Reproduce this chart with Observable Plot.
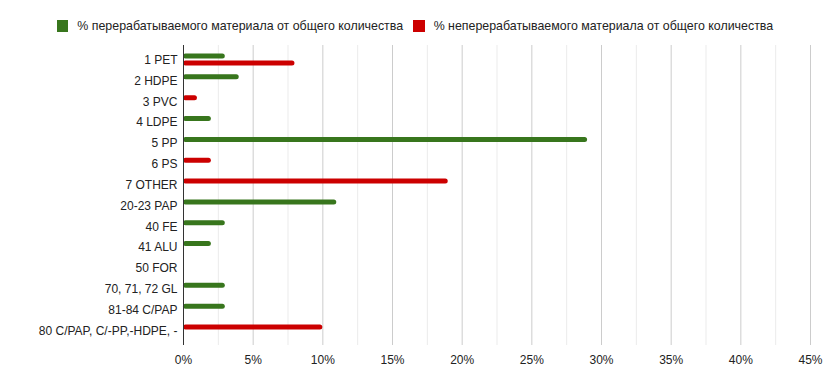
<!DOCTYPE html>
<html>
<head>
<meta charset="utf-8">
<script src="https://cdn.jsdelivr.net/npm/d3@7"></script>
<script src="https://cdn.jsdelivr.net/npm/@observablehq/plot@0.6"></script>
<style>
  html, body { margin: 0; padding: 0; background: #fff; }
  body { width: 830px; height: 385px; overflow: hidden; font-family: "Liberation Sans", Arial, sans-serif; }
  #legend { height: 38px; display: flex; justify-content: center; align-items: flex-start; font-size: 12.4px; color: #222; }
  .item { display: flex; align-items: center; margin: 0 5px; padding-top: 19px; }
  .sw { width: 11.5px; height: 11.5px; margin-right: 9px; }
  svg { display: block; }
</style>
</head>
<body>
<div id="legend"></div>
<div id="chart"></div>
<script>
const categories = ["1 PET", "2 HDPE", "3 PVC", "4 LDPE", "5 PP", "6 PS", "7 OTHER", "20-23 PAP", "40 FE", "41 ALU", "50 FOR", "70, 71, 72 GL", "81-84 C/PAP", "80 C/PAP, C/-PP,-HDPE, -"];
const seriesNames = ["% перерабатываемого материала от общего количества", "% неперерабатываемого материала от общего количества"];
const recycled =    [3, 4, null, 2, 29, null, null, 11, 3, 2, null, 3, 3, null];
const nonRecycled = [8, null, 1, null, null, 2, 19, null, null, null, null, null, null, 10];
const seriesColors = ["#38761d", "#cc0000"];
const xTicks = [0, 5, 10, 15, 20, 25, 30, 35, 40, 45];

// legend
const legend = document.getElementById("legend");
seriesNames.forEach((name, i) => {
  const it = document.createElement("div");
  it.className = "item";
  it.innerHTML = `<div class="sw" style="background:${seriesColors[i]}"></div><span>${name}</span>`;
  legend.appendChild(it);
});

// rows: bars within a category take consecutive slots
const rows = [];
categories.forEach((c, i) => {
  let slot = 0;
  [recycled, nonRecycled].forEach((arr, s) => {
    const v = arr[i];
    if (v != null && v > 0) {
      rows.push({category: c, series: seriesNames[s], value: v, slot: slot++});
    }
  });
});

const minorTicks = d3.range(2.5, 45, 5);
const step = 20.84;

const chart = Plot.plot({
  width: 830,
  height: 347,
  marginLeft: 183,
  marginRight: 20,
  marginTop: 7,
  marginBottom: 40,
  style: {fontFamily: "Liberation Sans, Arial, sans-serif", fontSize: "12px", color: "#222", background: "#fff"},
  x: {domain: [0, 45], ticks: xTicks, tickFormat: d => d + "%", label: null},
  y: {domain: categories, type: "band", padding: 0, round: false, insetTop: 4.1, insetBottom: 4.1, label: null},
  color: {domain: seriesNames, range: seriesColors},
  marks: [
    Plot.ruleX(minorTicks, {stroke: "#ebebeb"}),
    Plot.ruleX(xTicks.slice(1), {stroke: "#cccccc"}),
    Plot.barX(rows.filter(d => d.slot === 0), {
      y: "category", x1: 0, x2: "value", fill: "series",
      insetTop: step / 2 - 6, insetBottom: step / 2 + 1, rx: 2.5
    }),
    Plot.barX(rows.filter(d => d.slot === 1), {
      y: "category", x1: 0, x2: "value", fill: "series",
      insetTop: step / 2 + 1, insetBottom: step / 2 - 6, rx: 2.5
    }),
    Plot.ruleX([0], {stroke: "#333"}),
    Plot.axisX({ticks: xTicks, tickFormat: d => d + "%", tickSize: 0, tickPadding: 10, label: null, fill: "#222"}),
    Plot.axisY({tickSize: 0, tickPadding: 6, label: null, fill: "#222"})
  ]
});
document.getElementById("chart").appendChild(chart);
</script>
</body>
</html>
